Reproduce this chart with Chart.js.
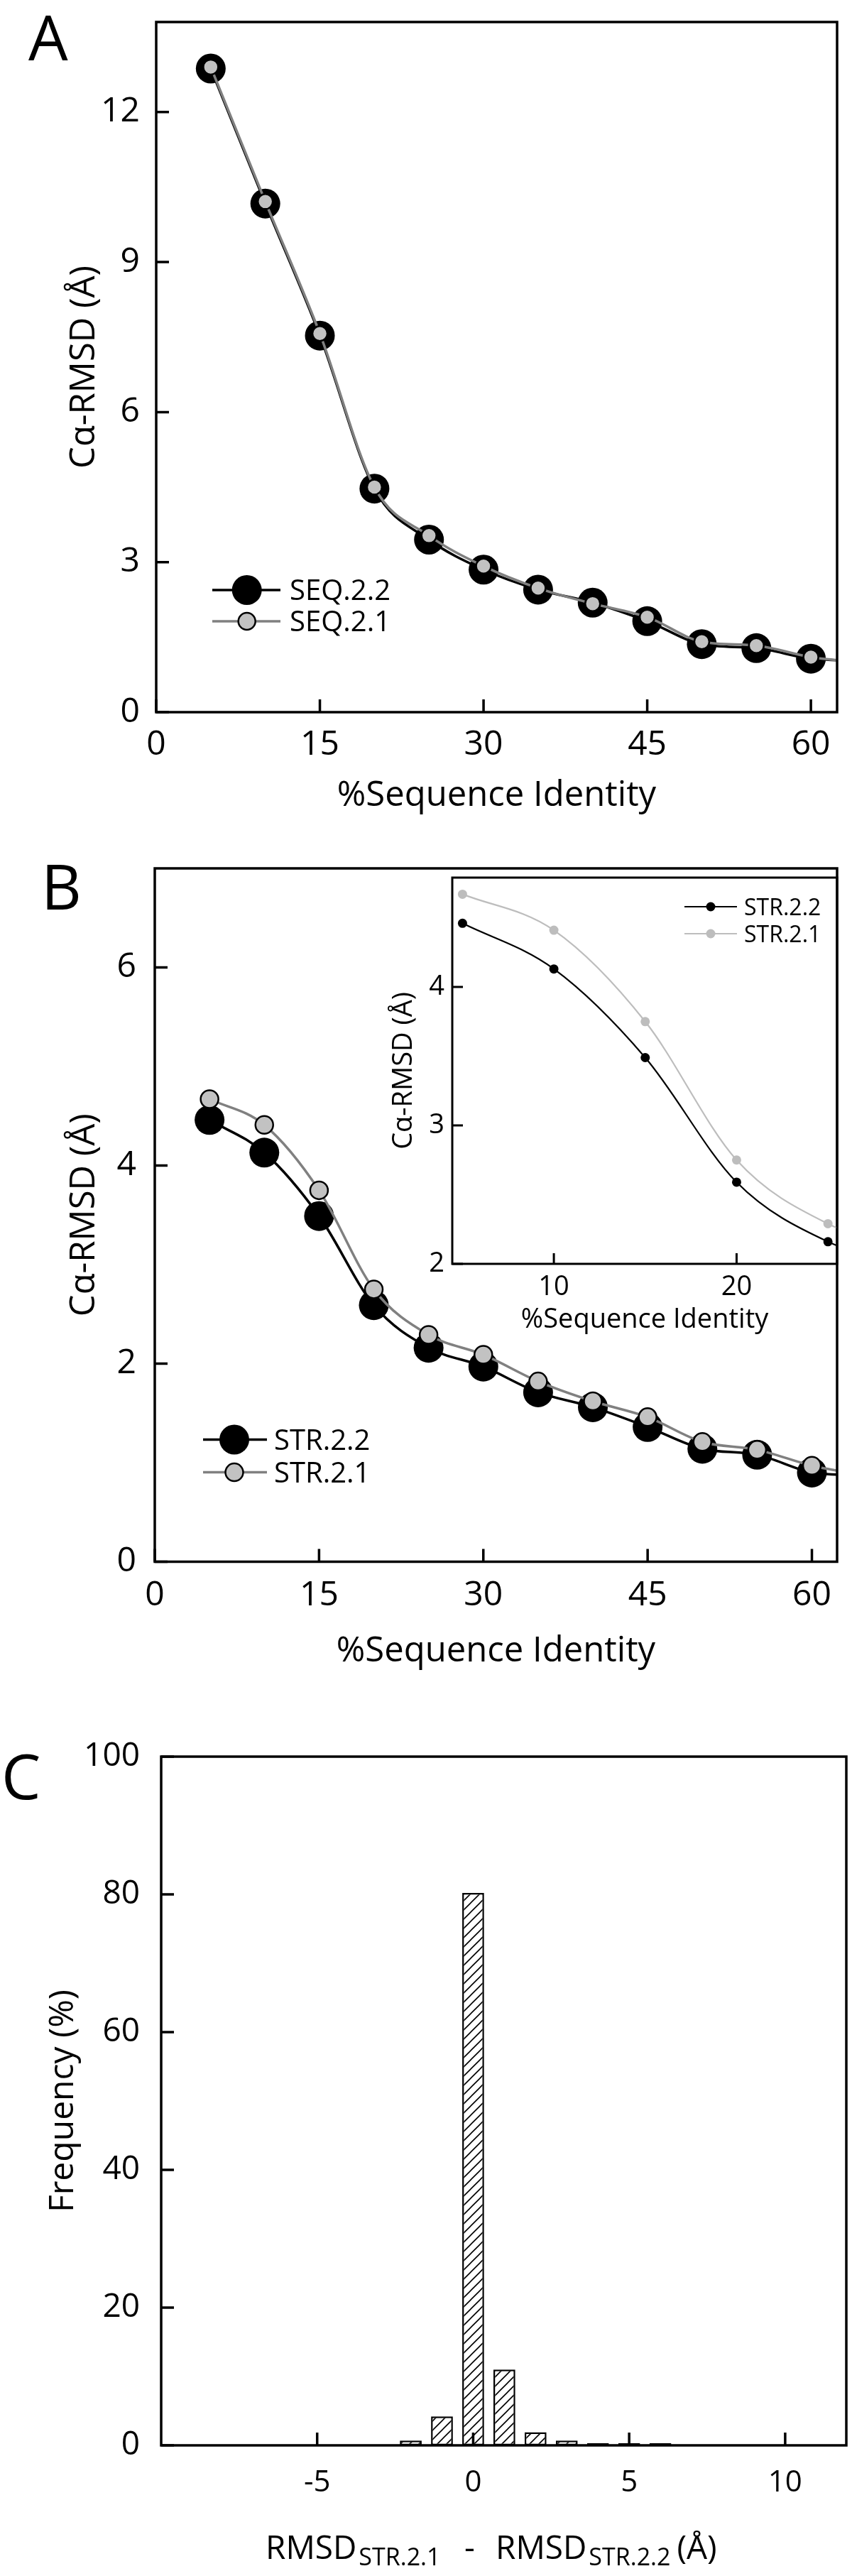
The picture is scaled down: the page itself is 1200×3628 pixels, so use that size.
<!DOCTYPE html>
<html><head><meta charset="utf-8">
<script src="https://cdn.jsdelivr.net/npm/chart.js@4.4.1/dist/chart.umd.min.js"></script>
<style>
html,body{margin:0;padding:0;background:#fff;}
#page{position:relative;width:1200px;height:3628px;overflow:hidden;background:#fff;}
canvas{position:absolute;left:0;}
</style></head><body>
<div id="page">
<canvas id="cA" width="1200" height="1180" style="top:0px"></canvas>
<canvas id="cB" width="1200" height="1240" style="top:1180px"></canvas>
<canvas id="cI" width="700" height="720" style="top:1200px;left:500px"></canvas>
<canvas id="cC" width="1200" height="1208" style="top:2420px"></canvas>
</div>
<script>
// ---------------- data ----------------
const identity = [5, 10, 15, 20, 25, 30, 35, 40, 45, 50, 55, 60];
// Panel A
const seq22 = [12.87, 10.17, 7.53, 4.47, 3.45, 2.85, 2.45, 2.19, 1.82, 1.36, 1.28, 1.07];
const seq21 = [12.90, 10.21, 7.57, 4.50, 3.53, 2.92, 2.48, 2.17, 1.90, 1.41, 1.33, 1.10];
const edgeXA = 62.4;
const seq22Edge = 1.04;
const seq21Edge = 1.04;
// Panel B (and inset)
const str22 = [4.46, 4.13, 3.49, 2.59, 2.16, 1.97, 1.71, 1.56, 1.36, 1.14, 1.08, 0.90];
const str21 = [4.67, 4.41, 3.75, 2.75, 2.29, 2.09, 1.82, 1.62, 1.46, 1.21, 1.13, 0.97];
const edgeXB = 62.3;
const str22Edge = 0.88;
const str21Edge = 0.92;
// Panel C
const rmsdDiff = [-2, -1, 0, 1, 2, 3, 4, 5, 6];
const frequency = [0.7, 4.2, 80.2, 11.0, 1.9, 0.7, 0.3, 0.3, 0.3];
// tick labels
const ticksAy = [0, 3, 6, 9, 12];
const ticksAx = [0, 15, 30, 45, 60];
const ticksBy = [0, 2, 4, 6];
const ticksBx = [0, 15, 30, 45, 60];
const ticksIy = [2, 3, 4];
const ticksIx = [10, 20];
const ticksCy = [0, 20, 40, 60, 80, 100];
const ticksCx = [-5, 0, 5, 10];

// ---------------- helpers ----------------
const FONT = "'Open Sans', sans-serif";
Chart.defaults.font.family = FONT;
Chart.defaults.color = '#000';
const GREY_LINE = '#808080';
const GREY_FILL = '#c2c2c2';
const LIGHT = '#bdbdbd';

function series(xs, ys, ex, ey) {
  const pts = xs.map((x, i) => ({x: x, y: ys[i]}));
  if (ex != null) pts.push({x: ex, y: ey});
  return pts;
}
const isMark = c => c.dataIndex < identity.length;

function axis(o) {
  return {
    type: 'linear', min: o.min, max: o.max, offset: false,
    grid: {display: false, drawTicks: false},
    border: {display: false},
    ticks: {font: {size: o.fs}, padding: o.pad, color: '#000', autoSkip: false, maxRotation: 0,
            callback: v => String(v)},
    title: {display: !!o.title, text: o.title, color: '#000', font: {size: o.tfs},
            padding: o.tpad || 0},
    afterBuildTicks: s => { s.ticks = o.ticks.map(v => ({value: v})); },
    afterFit: s => {
      if (o.w != null) s.width = o.w;
      if (o.h != null) s.height = o.h;
      s.paddingTop = 0; s.paddingBottom = 0; s.paddingLeft = 0; s.paddingRight = 0;
    }
  };
}

// frame box with inward ticks, drawn through the chart's own scales
function framePlugin(lw, tl) {
  return {
    id: 'frame',
    afterDatasetsDraw(chart) {
      const ctx = chart.ctx, a = chart.chartArea;
      const xs = chart.scales.x, ys = chart.scales.y;
      ctx.save();
      ctx.strokeStyle = '#000';
      ctx.lineWidth = lw;
      ctx.beginPath();
      xs.ticks.forEach(t => {
        const p = xs.getPixelForValue(t.value);
        ctx.moveTo(p, a.bottom); ctx.lineTo(p, a.bottom - tl);
      });
      ys.ticks.forEach(t => {
        const p = ys.getPixelForValue(t.value);
        ctx.moveTo(a.left, p); ctx.lineTo(a.left + tl, p);
      });
      ctx.stroke();
      ctx.strokeRect(a.left, a.top, a.right - a.left, a.bottom - a.top);
      ctx.restore();
    }
  };
}

// legend: line sample with marker in the middle, styled from the datasets
function keyPlugin(k) {
  return {
    id: 'key',
    afterDraw(chart) {
      const ctx = chart.ctx;
      k.rows.forEach(r => {
        const ds = chart.data.datasets[r.ds];
        ctx.save();
        ctx.strokeStyle = ds.borderColor;
        ctx.lineWidth = ds.borderWidth;
        ctx.beginPath(); ctx.moveTo(k.x0, r.y); ctx.lineTo(k.x1, r.y); ctx.stroke();
        ctx.beginPath(); ctx.arc(k.xm, r.y, r.r, 0, Math.PI * 2);
        ctx.fillStyle = ds.pointBackgroundColor; ctx.fill();
        if (ds.pointBorderWidth) { ctx.lineWidth = ds.pointBorderWidth; ctx.strokeStyle = ds.pointBorderColor; ctx.stroke(); }
        ctx.fillStyle = '#000';
        ctx.font = k.size + 'px ' + FONT;
        ctx.textBaseline = 'alphabetic'; ctx.textAlign = 'left';
        ctx.fillText(ds.label, k.tx, r.y + k.dy);
        ctx.restore();
      });
    }
  };
}

function letterPlugin(text, x, y, size) {
  return {
    id: 'letter',
    afterDraw(chart) {
      const ctx = chart.ctx;
      ctx.save();
      ctx.fillStyle = '#000';
      ctx.font = size + 'px ' + FONT;
      ctx.textBaseline = 'alphabetic'; ctx.textAlign = 'left';
      ctx.fillText(text, x, y);
      ctx.restore();
    }
  };
}

// x-axis title with subscripts
function subTitlePlugin(t) {
  return {
    id: 'subTitle',
    afterDraw(chart) {
      const ctx = chart.ctx;
      ctx.save();
      ctx.fillStyle = '#000';
      ctx.textBaseline = 'alphabetic'; ctx.textAlign = 'left';
      let x = t.x;
      t.parts.forEach(p => {
        ctx.font = p.size + 'px ' + FONT;
        if (typeof p.at === 'number') x = p.at;
        ctx.fillText(p.text, x, p.sub ? t.subBase : t.base);
        x += ctx.measureText(p.text).width + (p.gap || 0);
      });
      ctx.restore();
    }
  };
}

const basePlugins = {legend: {display: false}, tooltip: {enabled: false}, title: {display: false}};

// ---------------- Panel A ----------------
new Chart(document.getElementById('cA'), {
  type: 'line',
  data: {datasets: [
    {label: 'SEQ.2.1', data: series(identity, seq21, edgeXA, seq21Edge), order: 0,
     borderColor: GREY_LINE, borderWidth: 3.5, cubicInterpolationMode: 'monotone', fill: false,
     pointRadius: c => isMark(c) ? 10.5 : 0, pointBackgroundColor: GREY_FILL,
     pointBorderColor: '#000', pointBorderWidth: 2.5},
    {label: 'SEQ.2.2', data: series(identity, seq22, edgeXA, seq22Edge), order: 1,
     borderColor: '#000', borderWidth: 3.5, cubicInterpolationMode: 'monotone', fill: false,
     pointRadius: c => isMark(c) ? 21 : 0, pointBackgroundColor: '#000',
     pointBorderColor: '#000', pointBorderWidth: 0}
  ]},
  options: {
    responsive: false, animation: false, events: [],
    layout: {padding: {top: 31, right: 8, left: 0, bottom: 0}},
    scales: {
      x: axis({min: 0, max: edgeXA, ticks: ticksAx, fs: 48, pad: 18, h: 177,
               title: '%Sequence Identity', tfs: 49, tpad: {top: 0, bottom: 29.6}}),
      y: axis({min: 0, max: 13.8, ticks: ticksAy, fs: 48, pad: 23, w: 220,
               title: 'C\u03b1-RMSD (\u00c5)', tfs: 49, tpad: {top: 90, bottom: 0}})
    },
    plugins: basePlugins
  },
  plugins: [framePlugin(3.5, 18),
            keyPlugin({x0: 299, x1: 395, xm: 347.7, tx: 408, size: 40, dy: 14.3,
                       rows: [{ds: 1, y: 831, r: 21}, {ds: 0, y: 875, r: 12}]}),
            letterPlugin('A', 40, 85, 88)]
});

// ---------------- Panel B ----------------
new Chart(document.getElementById('cB'), {
  type: 'line',
  data: {datasets: [
    {label: 'STR.2.1', data: series(identity, str21, edgeXB, str21Edge), order: 0,
     borderColor: GREY_LINE, borderWidth: 3.5, cubicInterpolationMode: 'monotone', fill: false,
     pointRadius: c => isMark(c) ? 12.5 : 0, pointBackgroundColor: GREY_FILL,
     pointBorderColor: '#000', pointBorderWidth: 2.5},
    {label: 'STR.2.2', data: series(identity, str22, edgeXB, str22Edge), order: 1,
     borderColor: '#000', borderWidth: 3.5, cubicInterpolationMode: 'monotone', fill: false,
     pointRadius: c => isMark(c) ? 21 : 0, pointBackgroundColor: '#000',
     pointBorderColor: '#000', pointBorderWidth: 0}
  ]},
  options: {
    responsive: false, animation: false, events: [],
    layout: {padding: {top: 43, right: 8, left: 0, bottom: 0}},
    scales: {
      x: axis({min: 0, max: edgeXB, ticks: ticksBx, fs: 48, pad: 19, h: 220.5,
               title: '%Sequence Identity', tfs: 49, tpad: {top: 0, bottom: 65}}),
      y: axis({min: 0, max: 7, ticks: ticksBy, fs: 48, pad: 26, w: 218,
               title: 'C\u03b1-RMSD (\u00c5)', tfs: 49, tpad: {top: 90, bottom: 0}})
    },
    plugins: basePlugins
  },
  plugins: [framePlugin(3.5, 18),
            keyPlugin({x0: 286, x1: 376, xm: 330, tx: 386, size: 40, dy: 14.3,
                       rows: [{ds: 1, y: 847.5, r: 21}, {ds: 0, y: 893.6, r: 12.5}]}),
            letterPlugin('B', 58, 101, 88)]
});

// ---------------- Panel B inset ----------------
new Chart(document.getElementById('cI'), {
  type: 'line',
  data: {datasets: [
    {label: 'STR.2.2', data: series(identity, str22, edgeXB, str22Edge), order: 0,
     borderColor: '#000', borderWidth: 2.2, cubicInterpolationMode: 'monotone', fill: false,
     pointRadius: 6.5, pointBackgroundColor: '#000', pointBorderWidth: 0},
    {label: 'STR.2.1', data: series(identity, str21, edgeXB, str21Edge), order: 1,
     borderColor: LIGHT, borderWidth: 2.2, cubicInterpolationMode: 'monotone', fill: false,
     pointRadius: 6.5, pointBackgroundColor: LIGHT, pointBorderWidth: 0}
  ]},
  options: {
    responsive: false, animation: false, events: [],
    layout: {padding: {top: 36, right: 21, left: 0, bottom: 0}},
    scales: {
      x: axis({min: 4.44, max: 25.5, ticks: ticksIx, fs: 38, pad: 10, h: 140,
               title: '%Sequence Identity', tfs: 38, tpad: {top: 0, bottom: 38}}),
      y: axis({min: 2, max: 4.79, ticks: ticksIy, fs: 38, pad: 11, w: 137,
               title: 'C\u03b1-RMSD (\u00c5)', tfs: 38, tpad: {top: 46, bottom: 0}})
    },
    plugins: basePlugins
  },
  plugins: [framePlugin(3, 15),
            keyPlugin({x0: 464, x1: 538, xm: 501, tx: 548, size: 32, dy: 11.5,
                       rows: [{ds: 0, y: 77, r: 6.5}, {ds: 1, y: 115, r: 6.5}]})]
});

// ---------------- Panel C ----------------
function hatchPattern() {
  const s = 13;
  const c = document.createElement('canvas');
  c.width = s; c.height = s;
  const g = c.getContext('2d');
  g.fillStyle = '#fff'; g.fillRect(0, 0, s, s);
  g.strokeStyle = '#000'; g.lineWidth = 1.6;
  g.beginPath();
  g.moveTo(-s, 2 * s); g.lineTo(2 * s, -s);
  g.moveTo(-s, s); g.lineTo(s, -s);
  g.moveTo(0, 2 * s); g.lineTo(2 * s, 0);
  g.stroke();
  return g.createPattern(c, 'repeat');
}
new Chart(document.getElementById('cC'), {
  type: 'bar',
  data: {datasets: [{
    label: 'Frequency', data: series(rmsdDiff, frequency),
    backgroundColor: hatchPattern(), borderColor: '#000', borderWidth: 2.5,
    categoryPercentage: 1, barPercentage: 0.7, borderSkipped: false
  }]},
  options: {
    responsive: false, animation: false, events: [],
    layout: {padding: {top: 54, right: 8, left: 0, bottom: 0}},
    scales: {
      x: axis({min: -10, max: 11.96, ticks: ticksCx, fs: 42, pad: 28, h: 184}),
      y: axis({min: 0, max: 100, ticks: ticksCy, fs: 46, pad: 30, w: 227,
               title: 'Frequency (%)', tfs: 48, tpad: {top: 61, bottom: 0}})
    },
    plugins: basePlugins
  },
  plugins: [framePlugin(3.5, 18),
            letterPlugin('C', 2, 114, 88),
            subTitlePlugin({x: 374, base: 1184, subBase: 1193, parts: [
              {text: 'RMSD', size: 46, gap: 3},
              {text: 'STR.2.1', size: 34, sub: true},
              {text: '-', size: 46, at: 654},
              {text: 'RMSD', size: 46, at: 698, gap: 3},
              {text: 'STR.2.2', size: 34, sub: true, gap: 9},
              {text: '(\u00c5)', size: 46}
            ]})]
});
</script>
</body></html>
